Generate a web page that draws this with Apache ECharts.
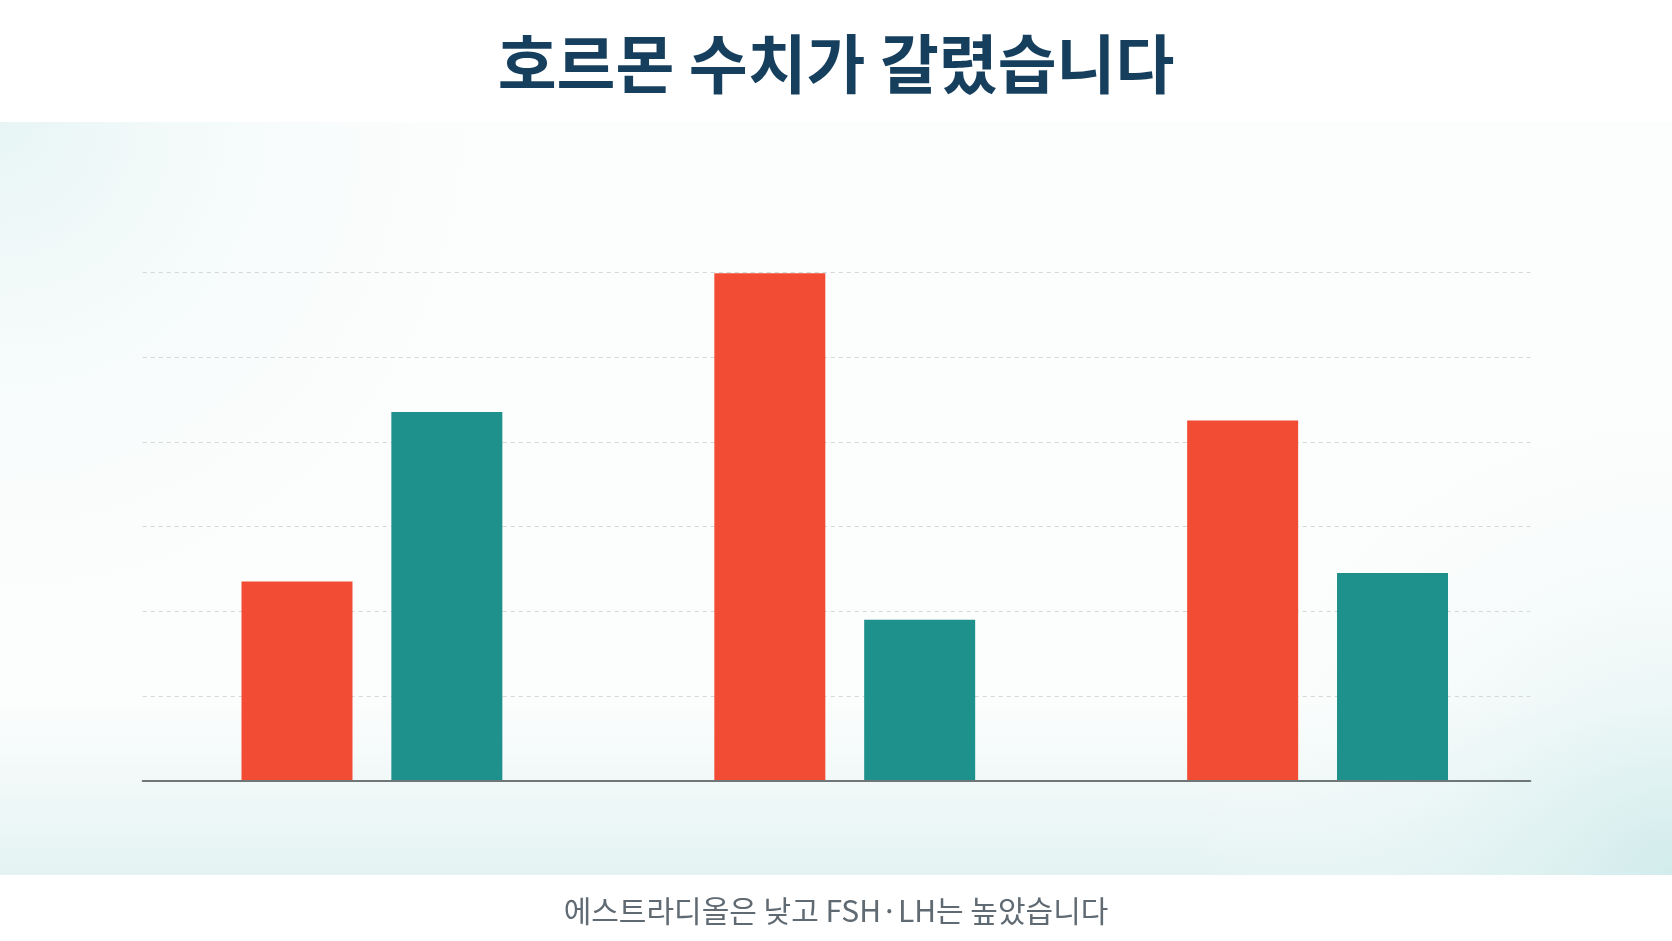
<!DOCTYPE html>
<html>
<head>
<meta charset="utf-8">
<script src="https://cdn.jsdelivr.net/npm/echarts@6/dist/echarts.min.js"></script>
<style>
  html, body { margin: 0; padding: 0; background: #ffffff; }
  #chart { width: 1672px; height: 941px; }
</style>
</head>
<body>
<div id="chart"></div>
<script>
const titleText = '호르몬 수치가 갈렸습니다';
const subtitleText = '에스트라디올은 낮고 FSH·LH는 높았습니다';
const categories = ['에스트라디올', 'FSH', 'LH'];
const seriesNames = ['환자', '기준'];
const patientValues = [2.35, 5.99, 4.25];
const referenceValues = [4.35, 1.90, 2.45];
const yMin = 0;
const yMax = 6;
const yInterval = 1;

const FONT = '"Noto Sans CJK KR", "Noto Sans", sans-serif';
const RED = '#F24C35';
const TEAL = '#1F918D';

const chart = echarts.init(document.getElementById('chart'), null, { renderer: 'canvas' });

const option = {
  backgroundColor: '#ffffff',
  animation: false,
  graphic: [
    { type: 'rect', silent: true, z: -10, shape: { x: 0, y: 122, width: 1672, height: 753 },
      style: { fill: '#fcfdfd' } },
    { type: 'rect', silent: true, z: -9, shape: { x: 0, y: 122, width: 1672, height: 753 },
      style: { fill: { type: 'radial', x: 0, y: 0, r: 0.7,
        colorStops: [{ offset: 0, color: 'rgba(220,241,241,0.65)' }, { offset: 1, color: 'rgba(252,253,253,0)' }] } } },
    { type: 'rect', silent: true, z: -9, shape: { x: 0, y: 700, width: 1672, height: 175 },
      style: { fill: { type: 'linear', x: 0, y: 0, x2: 0, y2: 1,
        colorStops: [{ offset: 0, color: 'rgba(225,242,242,0)' }, { offset: 1, color: 'rgba(222,240,240,0.8)' }] } } },
    { type: 'rect', silent: true, z: -9, shape: { x: 0, y: 122, width: 1672, height: 753 },
      style: { fill: { type: 'radial', x: 1, y: 1, r: 0.65,
        colorStops: [{ offset: 0, color: 'rgba(205,234,234,0.8)' }, { offset: 1, color: 'rgba(252,253,253,0)' }] } } }
  ],
  title: [
    { text: titleText, left: 'center', top: 27,
      textStyle: { fontFamily: FONT, fontSize: 64, fontWeight: 'bold', color: '#163F5E' } },
    { text: subtitleText, left: 'center', top: 891,
      textStyle: { fontFamily: FONT, fontSize: 30, fontWeight: 'normal', color: '#5F6A72' } }
  ],
  grid: [
    { left: 142.7, right: 141.7, top: 272.3, bottom: 160.3 },
    { left: 135.5, right: 118, top: 272.3, bottom: 160.3 }
  ],
  xAxis: [
    { type: 'category', gridIndex: 0, data: categories, z: 5,
      axisLine: { lineStyle: { color: '#6E7677', width: 2 } },
      axisTick: { show: false }, axisLabel: { show: false } },
    { type: 'category', gridIndex: 1, data: categories, show: false }
  ],
  yAxis: [
    { type: 'value', gridIndex: 0, min: yMin, max: yMax, interval: yInterval,
      axisLine: { show: false }, axisTick: { show: false }, axisLabel: { show: false },
      splitLine: { lineStyle: { color: '#D4D7D8', type: [4, 4], width: 1 } } },
    { type: 'value', gridIndex: 1, min: yMin, max: yMax, interval: yInterval, show: false,
      splitLine: { show: false } }
  ],
  series: [
    { name: seriesNames[0], type: 'bar', xAxisIndex: 1, yAxisIndex: 1, data: patientValues,
      barWidth: 111, barGap: '35%', itemStyle: { color: RED } },
    { name: seriesNames[1], type: 'bar', xAxisIndex: 1, yAxisIndex: 1, data: referenceValues,
      barWidth: 111, barGap: '35%', itemStyle: { color: TEAL } }
  ]
};

chart.setOption(option);
</script>
</body>
</html>
